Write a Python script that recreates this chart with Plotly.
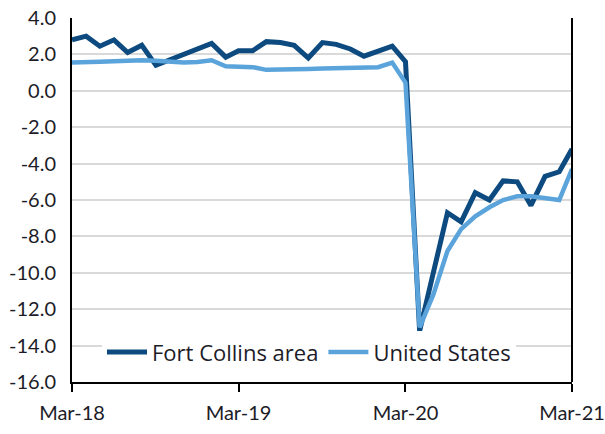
import plotly.graph_objects as go

months = ["2018-03-01", "2018-04-01", "2018-05-01", "2018-06-01", "2018-07-01", "2018-08-01",
          "2018-09-01", "2018-10-01", "2018-11-01", "2018-12-01", "2019-01-01", "2019-02-01",
          "2019-03-01", "2019-04-01", "2019-05-01", "2019-06-01", "2019-07-01", "2019-08-01",
          "2019-09-01", "2019-10-01", "2019-11-01", "2019-12-01", "2020-01-01", "2020-02-01",
          "2020-03-01", "2020-04-01", "2020-05-01", "2020-06-01", "2020-07-01", "2020-08-01",
          "2020-09-01", "2020-10-01", "2020-11-01", "2020-12-01", "2021-01-01", "2021-02-01",
          "2021-03-01"]

fort_collins = [2.8, 3.0, 2.45, 2.8, 2.1, 2.5, 1.4, 1.7, 2.0, 2.3, 2.6, 1.85,
                2.2, 2.2, 2.7, 2.65, 2.5, 1.8, 2.65, 2.55, 2.3, 1.9, 2.15, 2.45,
                1.6, -13.2, -10.0, -6.7, -7.2, -5.6, -6.0, -4.95, -5.0, -6.3, -4.7, -4.45,
                -3.2]

united_states = [1.55, 1.6, 1.6, 1.62, 1.65, 1.68, 1.65, 1.6, 1.55, 1.58, 1.68, 1.35,
                 1.3, 1.3, 1.15, 1.15, 1.18, 1.2, 1.22, 1.25, 1.25, 1.25, 1.3, 1.55,
                 0.45, -13.0, -11.2, -8.8, -7.6, -6.9, -6.4, -6.0, -5.8, -5.8, -5.9, -6.0,
                 -4.3]

x_tick_vals = ["2018-03-01", "2019-03-01", "2020-03-01", "2021-03-01"]
x_tick_text = ["Mar-18", "Mar-19", "Mar-20", "Mar-21"]

y_tick_vals = [4, 2, 0, -2, -4, -6, -8, -10, -12, -14, -16]
y_tick_text = ["4.0", "2.0", "0.0", "-2.0", "-4.0", "-6.0", "-8.0", "-10.0", "-12.0", "-14.0", "-16.0"]

dark = "#0d4a7f"
light = "#5ba4db"
text_color = "#1c1c28"

fig = go.Figure()
fig.add_trace(go.Scatter(x=months, y=fort_collins, mode="lines", name="Fort Collins area",
                         line=dict(color=dark, width=5)))
fig.add_trace(go.Scatter(x=months, y=united_states, mode="lines", name="United States",
                         line=dict(color=light, width=4.5)))

fig.update_layout(
    width=605, height=434,
    margin=dict(l=72, r=33, t=18, b=52),
    paper_bgcolor="white", plot_bgcolor="white",
    font=dict(family="Lato", size=20, color=text_color),
    showlegend=True,
    legend=dict(orientation="h", x=0.06, y=0.082, xanchor="left", yanchor="middle",
                bgcolor="white", font=dict(family="Open Sans", size=22, color=text_color),
                itemwidth=40, tracegroupgap=0),
    xaxis=dict(type="date", range=["2018-03-01", "2021-03-01"],
               tickvals=x_tick_vals, ticktext=x_tick_text,
               showgrid=False, zeroline=False, automargin=False,
               ticklabeloverflow="allow",
               showline=True, linecolor="black", linewidth=2,
               ticks="outside", ticklen=8, tickwidth=2, tickcolor="black",
               ticklabelstandoff=4,
               tickfont=dict(family="Lato", size=20, color=text_color)),
    yaxis=dict(range=[-16, 4], tickvals=y_tick_vals, ticktext=y_tick_text,
               showgrid=True, gridcolor="#d9d9d9", gridwidth=1.5, zeroline=False,
               automargin=False, ticklabeloverflow="allow",
               showline=True, linecolor="black", linewidth=2,
               ticks="", ticklabelstandoff=10,
               tickfont=dict(family="Lato", size=20, color=text_color)),
    shapes=[dict(type="line", xref="paper", yref="paper", x0=1, x1=1, y0=0, y1=1,
                 line=dict(color="black", width=2))],
)

fig.write_html("out.html",
               config={"displayModeBar": False},
               post_script="document.body.style.margin='0';document.body.style.overflow='hidden';")
